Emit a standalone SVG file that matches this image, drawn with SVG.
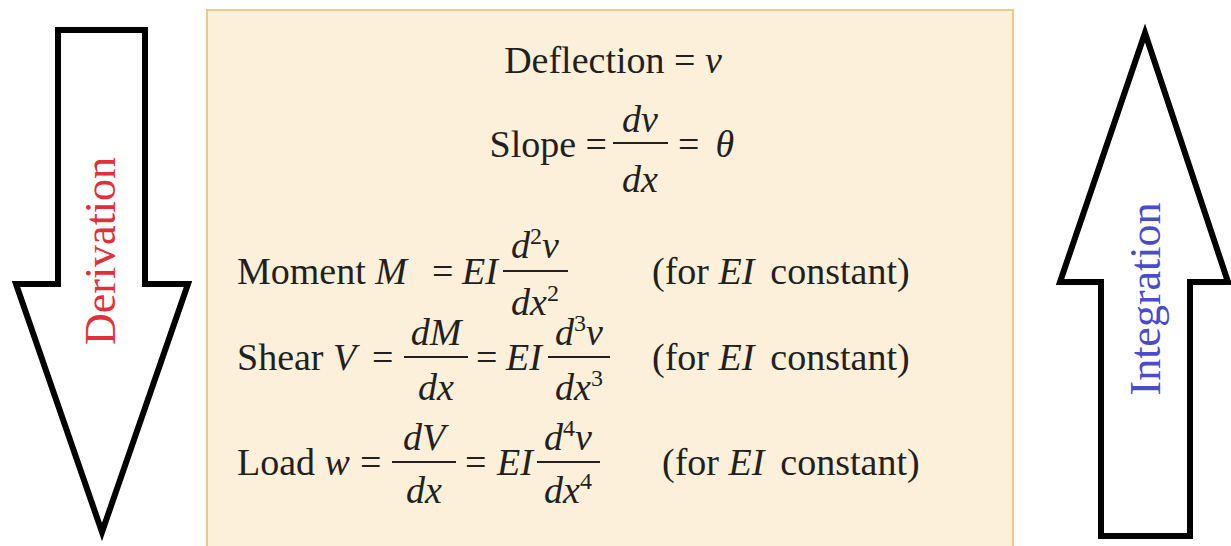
<svg xmlns="http://www.w3.org/2000/svg" width="1231" height="546" viewBox="0 0 1231 546">
<style>
.m{font-family:"Liberation Serif","Times New Roman",serif;font-size:38px;fill:#231f20}
.i{font-style:italic}
.s{font-size:24px}
.bar{stroke:#231f20;stroke-width:2}
.arr{fill:#fff;stroke:#000;stroke-width:6;stroke-linejoin:miter}
.lbl{font-family:"Liberation Serif","Times New Roman",serif;font-size:44px}
</style>
<rect width="1231" height="546" fill="#fff"/>
<g id="box">
<rect x="207" y="10" width="806" height="545" fill="#fdf0da" stroke="#f2c888" stroke-width="2"/>
<text class="m" x="613" y="73" text-anchor="middle">Deflection = <tspan class="i">v</tspan></text>
<text class="m" x="607" y="157" text-anchor="end">Slope =</text>
<text class="m i" x="640" y="132" text-anchor="middle">dv</text>
<line class="bar" x1="613" y1="143" x2="668" y2="143"/>
<text class="m i" x="640" y="192" text-anchor="middle">dx</text>
<text class="m" x="678" y="157">=<tspan class="i" dx="16">θ</tspan></text>

<text class="m" x="237" y="284">Moment <tspan class="i">M</tspan></text>
<text class="m" x="432" y="284">=</text>
<text class="m i" x="462" y="284">EI</text>
<text class="m" x="535" y="258" text-anchor="middle"><tspan class="i">d</tspan><tspan class="s" dy="-14">2</tspan><tspan class="i" dy="14">v</tspan></text>
<line class="bar" x1="503" y1="271" x2="568" y2="271"/>
<text class="m" x="535" y="315" text-anchor="middle"><tspan class="i">dx</tspan><tspan class="s" dy="-14">2</tspan></text>
<text class="m" x="652" y="284">(for <tspan class="i">EI</tspan><tspan dx="16">constant)</tspan></text>

<text class="m" x="237" y="370">Shear <tspan class="i">V</tspan></text>
<text class="m" x="372" y="370">=</text>
<text class="m i" x="436" y="345" text-anchor="middle">dM</text>
<line class="bar" x1="404" y1="357" x2="468" y2="357"/>
<text class="m i" x="436" y="400" text-anchor="middle">dx</text>
<text class="m" x="476" y="370">=</text>
<text class="m i" x="506" y="370">EI</text>
<text class="m" x="579" y="345" text-anchor="middle"><tspan class="i">d</tspan><tspan class="s" dy="-14">3</tspan><tspan class="i" dy="14">v</tspan></text>
<line class="bar" x1="548" y1="357" x2="610" y2="357"/>
<text class="m" x="579" y="400" text-anchor="middle"><tspan class="i">dx</tspan><tspan class="s" dy="-14">3</tspan></text>
<text class="m" x="652" y="370">(for <tspan class="i">EI</tspan><tspan dx="16">constant)</tspan></text>

<text class="m" x="237" y="475">Load <tspan class="i">w</tspan></text>
<text class="m" x="360" y="475">=</text>
<text class="m i" x="424" y="450" text-anchor="middle">dV</text>
<line class="bar" x1="392" y1="462" x2="456" y2="462"/>
<text class="m i" x="424" y="503" text-anchor="middle">dx</text>
<text class="m" x="465" y="475">=</text>
<text class="m i" x="497" y="475">EI</text>
<text class="m" x="568" y="450" text-anchor="middle"><tspan class="i">d</tspan><tspan class="s" dy="-14">4</tspan><tspan class="i" dy="14">v</tspan></text>
<line class="bar" x1="537" y1="462" x2="600" y2="462"/>
<text class="m" x="568" y="503" text-anchor="middle"><tspan class="i">dx</tspan><tspan class="s" dy="-14">4</tspan></text>
<text class="m" x="662" y="475">(for <tspan class="i">EI</tspan><tspan dx="16">constant)</tspan></text>
</g>
<g id="derivation-arrow">
<polygon class="arr" points="58,30 145,30 145,284 188,284 102,532 16,284 58,284"/>
<text class="lbl" fill="#e0303a" text-anchor="middle" transform="translate(115,251) rotate(-90)">Derivation</text>
</g>
<g id="integration-arrow">
<polygon class="arr" points="1101,536 1190,536 1190,282 1228,282 1145,33 1060,282 1101,282"/>
<text class="lbl" fill="#4b4bcf" text-anchor="middle" transform="translate(1160,299) rotate(-90)">Integration</text>
</g>
</svg>
